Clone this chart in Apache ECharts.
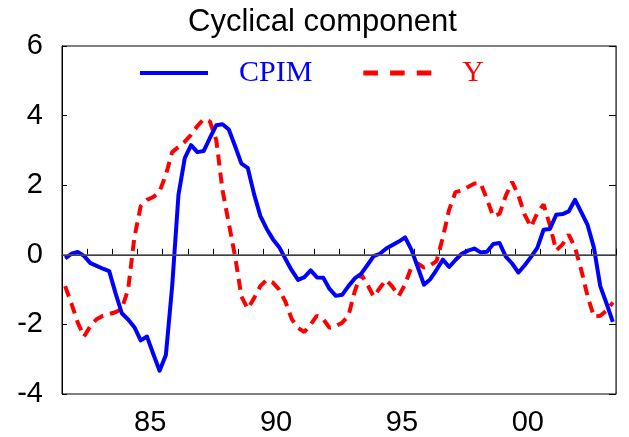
<!DOCTYPE html>
<html>
<head>
<meta charset="utf-8">
<script src="https://cdn.jsdelivr.net/npm/echarts@6/dist/echarts.min.js"></script>
<style>
  html, body { margin: 0; padding: 0; background: #fff; }
  #chart { width: 629px; height: 437px; }
</style>
</head>
<body>
<div id="chart"></div>
<script>
// Quarterly cyclical components, 1982Q1 - 2003Q4
const startYear = 1982;
const endYear = 2004;

const cpim = [
  -0.10, 0.03, 0.08, -0.03, -0.24, -0.32, -0.40, -0.47,
  -1.10, -1.68, -1.86, -2.08, -2.46, -2.35, -2.85, -3.33,
  -2.88, -0.90, 1.72, 2.78, 3.15, 2.95, 2.98, 3.36,
  3.72, 3.75, 3.60, 3.12, 2.62, 2.50, 1.75, 1.12,
  0.75, 0.45, 0.22, -0.12, -0.45, -0.72, -0.64, -0.45,
  -0.65, -0.66, -0.98, -1.18, -1.15, -0.90, -0.68, -0.55,
  -0.30, -0.04, 0.03, 0.18, 0.28, 0.38, 0.50, 0.15,
  -0.35, -0.86, -0.70, -0.43, -0.14, -0.35, -0.15, 0.03,
  0.12, 0.18, 0.07, 0.09, 0.31, 0.34, -0.05, -0.25,
  -0.51, -0.30, -0.06, 0.20, 0.72, 0.74, 1.15, 1.17,
  1.25, 1.58, 1.22, 0.85, 0.20, -0.90, -1.40, -1.93
];

const output = [
  -0.90, -1.40, -1.95, -2.35, -2.05, -1.85, -1.75, -1.70,
  -1.65, -1.55, -1.00, 0.50, 1.40, 1.58, 1.66, 1.82,
  2.30, 2.95, 3.10, 3.25, 3.45, 3.70, 3.90, 3.83,
  3.30, 1.85, 0.90, -0.05, -1.20, -1.55, -1.25, -0.90,
  -0.72, -0.80, -1.00, -1.35, -1.85, -2.10, -2.22, -2.00,
  -1.75, -1.85, -2.10, -2.05, -1.95, -1.75, -1.05, -0.55,
  -0.85, -1.20, -0.95, -0.72, -0.92, -1.18, -0.85, -0.35,
  -0.25, -0.37, -0.30, -0.18, 0.50, 1.30, 1.80, 1.85,
  1.95, 2.05, 2.05, 1.60, 1.10, 1.18, 1.70, 2.10,
  1.70, 1.15, 0.80, 1.20, 1.45, 0.85, 0.12, 0.30,
  0.58, 0.20, -0.45, -1.20, -1.78, -1.75, -1.60, -1.37
];

// x-axis labels sit in the middle of their year
const labelYears = [1985, 1990, 1995, 2000];
const yearLabels = ['85', '90', '95', '00'];

const yTicks = [-4, -2, 0, 2, 4, 6];

// each quarter is placed at its mid-point on the time axis
function toPoints(values) {
  return values.map((v, i) => [startYear + (i + 0.5) / 4, v]);
}

const yearTicks = [];
for (let yr = startYear; yr <= endYear; yr++) yearTicks.push(yr);
const labelPositions = labelYears.map(yr => yr + 0.5);

const fontSans = 'Liberation Sans, Arial, sans-serif';
const fontSerif = 'Liberation Serif, Times New Roman, serif';

const chart = echarts.init(document.getElementById('chart'), null, { renderer: 'canvas' });

chart.setOption({
  animation: false,
  backgroundColor: '#fff',
  title: {
    text: 'Cyclical component',
    left: 188,
    top: 7,
    padding: 0,
    textStyle: { fontFamily: fontSans, fontSize: 31, fontWeight: 'normal', color: '#000' }
  },
  legend: {
    top: 58,
    left: 140,
    padding: 0,
    itemWidth: 68,
    itemHeight: 26,
    itemGap: 51,
    textStyle: { fontFamily: fontSerif, fontSize: 30, padding: [0, 0, 0, 26] },
    data: [
      { name: 'CPIM', icon: 'path://M0,0H68V4H0Z', itemStyle: { color: '#0000ff' }, textStyle: { color: '#0000ff' } },
      { name: 'Y', icon: 'path://M0,0H12V4H0ZM22,0H34V4H22ZM44,0H56V4H44Z', itemStyle: { color: '#ff0000' }, textStyle: { color: '#ff0000' } }
    ]
  },
  grid: {
    left: 62, right: 13, top: 46, bottom: 40,
    show: true, borderColor: '#000', borderWidth: 1, backgroundColor: '#fff'
  },
  xAxis: {
    type: 'value',
    min: startYear,
    max: endYear,
    interval: 1,
    axisLine: { show: true, lineStyle: { color: '#000', width: 1 } },
    axisTick: {
      show: true, inside: true, length: 6,
      customValues: yearTicks,
      lineStyle: { color: '#000', width: 1 }
    },
    axisLabel: {
      show: true,
      customValues: labelPositions,
      margin: 14,
      fontFamily: fontSans, fontSize: 29, color: '#000',
      formatter: function (v) {
        const idx = labelPositions.findIndex(p => Math.abs(p - v) < 1e-6);
        return idx >= 0 ? yearLabels[idx] : '';
      }
    },
    splitLine: { show: false }
  },
  yAxis: [
    {
      type: 'value',
      min: -4, max: 6, interval: 2,
      axisLine: { show: true, lineStyle: { color: '#000', width: 1 } },
      axisTick: { show: true, inside: true, length: 5, lineStyle: { color: '#000' } },
      axisLabel: {
        margin: 19, fontFamily: fontSans, fontSize: 29, color: '#000',
        formatter: v => (yTicks.indexOf(v) >= 0 ? String(v) : '')
      },
      splitLine: { show: false }
    },
    {
      type: 'value',
      position: 'right',
      min: -4, max: 6, interval: 2,
      axisLine: { show: true, lineStyle: { color: '#555', width: 1 } },
      axisTick: { show: true, inside: true, length: 7, lineStyle: { color: '#000' } },
      axisLabel: { show: false },
      splitLine: { show: false }
    }
  ],
  series: [
    {
      name: 'CPIM',
      type: 'line',
      data: toPoints(cpim),
      showSymbol: false,
      symbol: 'none',
      z: 3,
      lineStyle: { color: '#0000ff', width: 4, join: 'round' },
      itemStyle: { color: '#0000ff' },
      markLine: {
        silent: true,
        symbol: 'none',
        label: { show: false },
        lineStyle: { color: '#555', width: 1.5, type: 'solid' },
        data: [{ yAxis: 0 }]
      }
    },
    {
      name: 'Y',
      type: 'line',
      data: toPoints(output),
      showSymbol: false,
      symbol: 'none',
      z: 2,
      lineStyle: { color: '#ff0000', width: 4, type: [11, 7] },
      itemStyle: { color: '#ff0000' }
    }
  ]
});
</script>
</body>
</html>
